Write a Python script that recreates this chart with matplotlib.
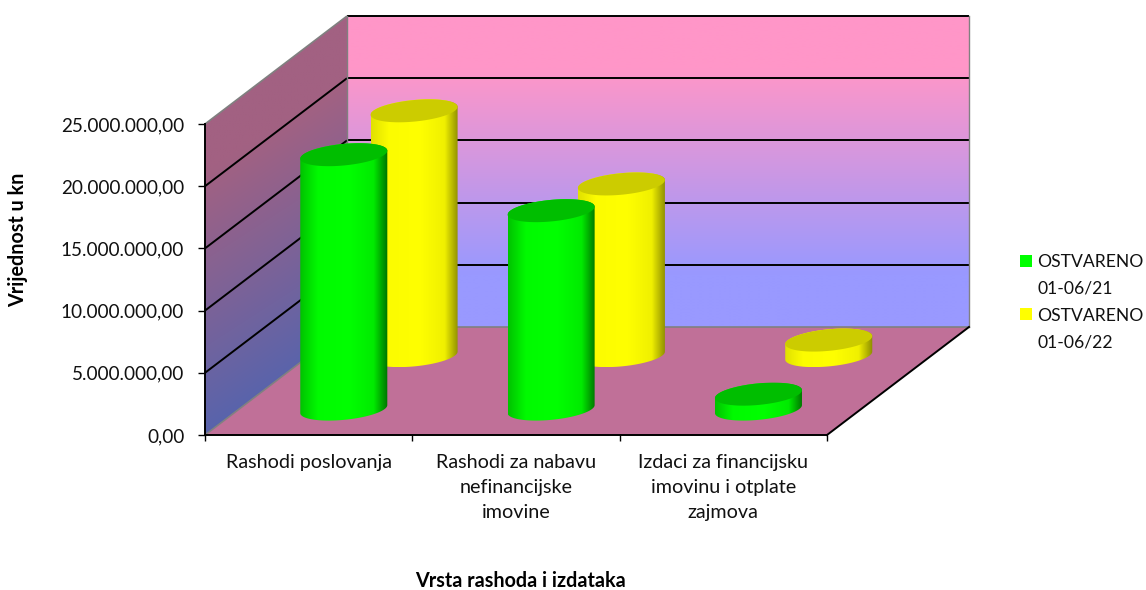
import numpy as np
import matplotlib
matplotlib.use("Agg")
import matplotlib.pyplot as plt
from matplotlib.patches import Polygon, Patch, Rectangle
from matplotlib.legend_handler import HandlerPatch
from matplotlib.ticker import FuncFormatter

categories = ["Rashodi poslovanja", "Rashodi za nabavu\nnefinancijske\nimovine",
              "Izdaci za financijsku\nimovinu i otplate\nzajmova"]
series_names = ["OSTVARENO\n01-06/21", "OSTVARENO\n01-06/22"]
ostvareno_21 = [20450000, 15950000, 1200000]
ostvareno_22 = [19680000, 13800000, 1250000]
y_ticks = [0, 5000000, 10000000, 15000000, 20000000, 25000000]
y_label = "Vrijednost u kn"
x_label = "Vrsta rashoda i izdataka"

plt.rcParams['font.family'] = ['Lato', 'DejaVu Sans']
W, H = 1146, 590
fig = plt.figure(figsize=(W / 100, H / 100), dpi=100, facecolor='white')
ax = fig.add_axes([205 / W, (H - 435) / H, 622 / W, 311 / H])
ax.set_xlim(0, 3)
ax.set_ylim(0, 25000000)
ax.set_autoscale_on(False)
ax.patch.set_visible(False)

# depth vector: one unit of depth expressed in axis units
DX = 142 / (622 / 3)
DY = 108 / (311 / 25000000)
YMAX = y_ticks[-1]


def proj(x, d, v):
    return x + d * DX, v + d * DY


def grad_image(rgb_array, extent, clip_xy, z):
    clip = Polygon(clip_xy, closed=True, transform=ax.transData)
    im = ax.imshow(rgb_array, extent=extent, aspect='auto', origin='lower',
                   interpolation='bilinear', zorder=z)
    im.set_clip_box(fig.bbox)
    im.set_clip_path(clip)
    return im


# back wall
t = np.clip((np.linspace(0, 1, 128) - 0.17) / (0.83 - 0.17), 0, 1)[:, None, None]
top_c = np.array([255, 150, 200]) / 255
bot_c = np.array([153, 153, 255]) / 255
back = bot_c * (1 - t) + top_c * t
bx0, by0 = proj(0, 1, 0)
bx1, by1 = proj(3, 1, YMAX)
grad_image(back, (bx0, bx1, by0, by1),
           [(bx0, by0), (bx1, by0), (bx1, by1), (bx0, by1)], 1)

# left wall
n = 128
gx, gy = np.meshgrid(np.linspace(0, 1, n), np.linspace(0, 1, n))
s = np.clip(1.6 * gy - 0.35 * gx + 0.0, 0, 1)[:, :, None]
lw_bot = np.array([88, 100, 172]) / 255
lw_top = np.array([162, 97, 130]) / 255
left = lw_bot * (1 - s) + lw_top * s
wall = [proj(0, 0, 0), proj(0, 1, 0), proj(0, 1, YMAX), proj(0, 0, YMAX)]
grad_image(left, (0, bx0, 0, by1), wall, 1)

# floor
ax.add_patch(Polygon([proj(0, 0, 0), proj(3, 0, 0), proj(3, 1, 0), proj(0, 1, 0)],
                     closed=True, facecolor='#C07098', edgecolor='none',
                     zorder=1.2, clip_on=False))

# gridlines
for v in y_ticks:
    c = '#808080' if v == 0 else 'black'
    xs = [proj(3, 1, v)[0], proj(0, 1, v)[0]]
    ys = [proj(3, 1, v)[1], proj(0, 1, v)[1]]
    ax.plot(xs, ys, color=c, lw=1.4 if v else 1.2, zorder=1.5, clip_on=False,
            solid_capstyle='butt')
    c2 = '#808080' if v in (0, YMAX) else 'black'
    xs = [proj(0, 1, v)[0], proj(0, 0, v)[0]]
    ys = [proj(0, 1, v)[1], proj(0, 0, v)[1]]
    ax.plot(xs, ys, color=c2, lw=1.4 if c2 == 'black' else 1.2, zorder=1.5,
            clip_on=False, solid_capstyle='butt')
# wall edges
ax.plot([bx0, bx0], [by0, by1], color='#808080', lw=1.0, zorder=1.5, clip_on=False)
ax.plot([bx1, bx1], [by0, by1], color='#808080', lw=1.0, zorder=1.5, clip_on=False)
ax.plot([3, bx1], [0, by0], color='black', lw=1.4, zorder=1.6, clip_on=False)

# cylinders
RX = 40.8 / (622 / 3)   # radius along category axis
RD = 11.5 / 108         # radius along depth axis
T0 = np.arctan2(RD * DX, RX)


def ell(cx, d, v, ts):
    px = cx + RX * np.cos(ts)
    pd = d + RD * np.sin(ts)
    return proj(px, pd, v)


def cylinder(cat, depth, value, cols, z):
    cx = cat + 0.505
    lower = np.linspace(T0 + np.pi, T0 + 2 * np.pi, 60)
    whole = np.linspace(T0, T0 + np.pi, 60)
    x1, y1 = ell(cx, depth, 0, lower)
    x2, y2 = ell(cx, depth, value, whole)
    body = np.column_stack([np.r_[x1, x2], np.r_[y1, y2]])
    hw = np.hypot(RX, RD * DX)
    c0 = proj(cx, depth, 0)[0]
    stops = [0, 0.2, 0.55, 0.84, 1]
    u = np.linspace(0, 1, 128)
    arr = np.stack([np.interp(u, stops, [c[i] for c in cols['ramp']])
                    for i in range(3)], axis=-1)[None, :, :] / 255
    ylo = y1.min()
    yhi = y2.max()
    grad_image(arr, (c0 - hw, c0 + hw, ylo, yhi), body, z)
    tt = np.linspace(0, 2 * np.pi, 120)
    xt, yt = ell(cx, depth, value, tt)
    ax.add_patch(Polygon(np.column_stack([xt, yt]), closed=True,
                         facecolor=cols['top'], edgecolor='none',
                         zorder=z + 0.01, clip_on=False))


GREEN = dict(top='#00BE00', ramp=[(0, 195, 0), (0, 250, 0), (0, 255, 0), (0, 235, 0), (0, 115, 0)])
YELLOW = dict(top='#CCCC00', ramp=[(225, 225, 0), (252, 252, 0), (255, 255, 0), (240, 240, 0), (140, 140, 0)])
for i in range(3):
    cylinder(i, 0.735, ostvareno_22[i], YELLOW, 2 + i * 0.1)
    cylinder(i, 0.24, ostvareno_21[i], GREEN, 2.05 + i * 0.1)

# axes furniture
for side in ('top', 'right'):
    ax.spines[side].set_visible(False)
for side in ('left', 'bottom'):
    ax.spines[side].set_linewidth(1.4)
    ax.spines[side].set_zorder(3)
ax.set_yticks(y_ticks)
ax.yaxis.set_major_formatter(FuncFormatter(
    lambda v, p: f"{v:,.2f}".replace(",", "X").replace(".", ",").replace("X", ".")))
ax.set_xticks(range(4))
ax.set_xticklabels([])
ax.set_xticks([0.5, 1.5, 2.5], minor=True)
ax.set_xticklabels(categories, minor=True, linespacing=1.55, ha='center', va='top')
ax.tick_params(axis='x', which='minor', length=0, pad=14, labelsize=14.2, labelcolor='#111111')
ax.tick_params(axis='x', which='major', length=4, width=1)
ax.tick_params(axis='y', length=5, width=1, pad=10, labelsize=13.6, labelcolor='#111111')

fig.text(18 / W, 1 - 240 / H, y_label, rotation=90, ha='center', va='center',
         fontsize=14.2, fontweight='bold', color='black')
fig.text(520 / W, 1 - 581 / H, x_label, ha='center', va='center',
         fontsize=14.2, fontweight='bold', color='black')


def square(legend, orig_handle, xdescent, ydescent, width, height, fontsize):
    return Rectangle((-xdescent, -ydescent + 10.7), width, height)


handles = [Patch(facecolor='#00FF00', label=series_names[0]),
           Patch(facecolor='#FFFF00', label=series_names[1])]
leg = fig.legend(handles=handles, loc='center left', bbox_to_anchor=(1020 / W, 1 - 302 / H),
                 frameon=False, fontsize=12.6, handlelength=0.686, handleheight=0.686,
                 handletextpad=0.286, labelspacing=0.65, borderpad=0, borderaxespad=0,
                 labelcolor='#111111',
                 handler_map={Patch: HandlerPatch(patch_func=square)})
for txt in leg.get_texts():
    txt.set_linespacing(1.8)

fig.savefig("out.png", dpi=100, facecolor='white')
